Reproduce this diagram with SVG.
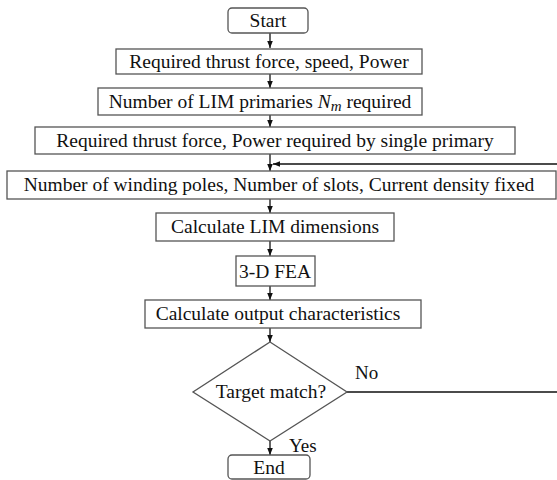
<svg xmlns="http://www.w3.org/2000/svg" width="557" height="480" viewBox="0 0 557 480">
<style>
.box{fill:#fff;stroke:#555;stroke-width:1.3}
.t{font-family:"Liberation Serif","Times New Roman",serif;font-size:19.5px;fill:#111;text-anchor:middle}
.lbl{font-family:"Liberation Serif","Times New Roman",serif;font-size:19px;fill:#111}
.c{fill:none;stroke:#111;stroke-width:1.3}
</style>
<defs>
<marker id="ah" markerWidth="8" markerHeight="8" refX="7" refY="4" orient="auto" markerUnits="userSpaceOnUse">
<path d="M0,1.2 L7,4 L0,6.8 Z" fill="#111"/>
</marker>
</defs>
<rect width="557" height="480" fill="#fff"/>
<g id="connectors">
<line class="c" x1="270" y1="33" x2="270" y2="48" marker-end="url(#ah)"/>
<line class="c" x1="270" y1="74" x2="270" y2="88" marker-end="url(#ah)"/>
<line class="c" x1="270" y1="115" x2="270" y2="127" marker-end="url(#ah)"/>
<line class="c" x1="270" y1="154" x2="270" y2="171" marker-end="url(#ah)"/>
<line class="c" x1="270" y1="199" x2="270" y2="213" marker-end="url(#ah)"/>
<line class="c" x1="270" y1="241" x2="270" y2="256" marker-end="url(#ah)"/>
<line class="c" x1="270" y1="286" x2="270" y2="300" marker-end="url(#ah)"/>
<line class="c" x1="270" y1="328" x2="270" y2="342" marker-end="url(#ah)"/>
<line class="c" x1="270" y1="441" x2="270" y2="455" marker-end="url(#ah)"/>
<path class="c" d="M347,392 L562,392 L562,164 L273,164" marker-end="url(#ah)"/>
<text class="lbl" x="355" y="379">No</text>
<text class="lbl" x="289" y="452">Yes</text>
</g>
<g id="start">
<rect class="box" x="228" y="8" width="80" height="25" rx="4"/>
<text class="t" x="268" y="27">Start</text>
</g>
<g id="req1">
<rect class="box" x="116" y="49" width="306" height="25"/>
<text class="t" x="269" y="68">Required thrust force, speed, Power</text>
</g>
<g id="nprim">
<rect class="box" x="98" y="88" width="324" height="27"/>
<text class="t" x="260" y="108">Number of LIM primaries <tspan font-style="italic">N</tspan><tspan font-style="italic" font-size="15" dy="3">m</tspan><tspan dy="-3"> required</tspan></text>
</g>
<g id="req2">
<rect class="box" x="35" y="127" width="480" height="27"/>
<text class="t" x="275" y="147">Required thrust force, Power required by single primary</text>
</g>
<g id="poles">
<rect class="box" x="7" y="171" width="549" height="28"/>
<text class="t" x="279" y="191">Number of winding poles, Number of slots, Current density fixed</text>
</g>
<g id="dims">
<rect class="box" x="156" y="213" width="238" height="28"/>
<text class="t" x="275" y="233">Calculate LIM dimensions</text>
</g>
<g id="fea">
<rect class="box" x="236" y="256" width="79" height="30"/>
<text class="t" x="275" y="278">3-D FEA</text>
</g>
<g id="output">
<rect class="box" x="145" y="300" width="276" height="28"/>
<text class="t" x="278" y="320">Calculate output characteristics</text>
</g>
<g id="decision">
<polygon class="box" points="270,342 347,392 270,441 193,392"/>
<text class="t" x="271" y="398">Target match?</text>
</g>
<g id="end">
<rect class="box" x="228" y="455" width="82" height="24" rx="4"/>
<text class="t" x="269" y="474">End</text>
</g>
</svg>
